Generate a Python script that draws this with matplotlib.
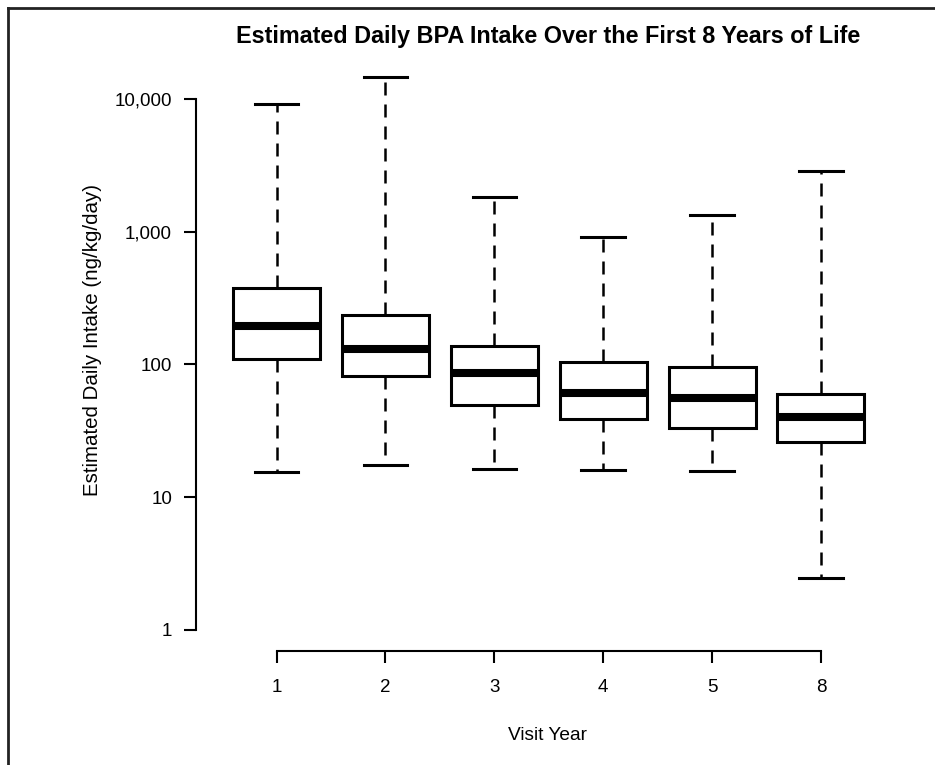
"""
Estimated daily BPA intake by visit year, R-style box plot on a log axis.
"""

import matplotlib
matplotlib.use("Agg")  # no display
import matplotlib.pyplot as plt
from matplotlib.lines import Line2D
from matplotlib.ticker import FixedLocator, NullLocator

plt.rcParams["font.family"] = ["Liberation Sans", "DejaVu Sans"]

# values (ng/kg/day)
visit_years = ["1", "2", "3", "4", "5", "8"]
whisker_high = [9200, 14600, 1830, 915, 1340, 2880]
upper_quartile = [373, 235, 137, 104, 96, 60]
median = [196, 130, 86, 61, 56, 40]
lower_quartile = [110, 81, 49, 39, 33, 26]
whisker_low = [15.4, 17.3, 16.3, 16.0, 15.8, 2.46]

y_ticks = [1, 10, 100, 1000, 10000]
y_tick_labels = ["1", "10", "100", "1,000", "10,000"]

stats = [
    dict(label=yr, whislo=lo, q1=q1, med=m, q3=q3, whishi=hi, fliers=[])
    for yr, lo, q1, m, q3, hi in zip(
        visit_years, whisker_low, lower_quartile, median, upper_quartile, whisker_high
    )
]

W, H = 935, 765
fig = plt.figure(figsize=(W / 100, H / 100), dpi=100)
fig.patch.set_facecolor("white")

# plot region in pixels: left 196, right 901.5, top 77.7, bottom 651
ax = fig.add_axes([196 / W, (H - 651) / H, 705.5 / W, (651 - 77.7) / H])

positions = list(range(1, len(visit_years) + 1))
lw_whisk = 1.8
parts = ax.bxp(
    stats,
    positions=positions,
    widths=0.8,
    patch_artist=True,
    showfliers=False,
    boxprops=dict(facecolor="white", edgecolor="black", linewidth=2.2),
    medianprops=dict(color="black", linewidth=5.8, solid_capstyle="butt"),
    whiskerprops=dict(color="black", linewidth=lw_whisk, linestyle=(0, (5.2, 3.6))),
    capprops=dict(color="black", linewidth=2.2),
    capwidths=0.4,
)
# year 2 upper whisker sits right on the top edge of the plot region
for artist in parts["caps"] + parts["whiskers"]:
    artist.set_clip_on(False)

ax.set_yscale("log")
ax.set_ylim(10 ** -0.16, 10 ** 4.16)
ax.set_xlim(0.26, len(visit_years) + 0.74)

ax.yaxis.set_major_locator(FixedLocator(y_ticks))
ax.yaxis.set_minor_locator(NullLocator())
ax.set_yticklabels(y_tick_labels)
ax.set_xticks(positions)
ax.set_xticklabels(visit_years)

for side in ("top", "right"):
    ax.spines[side].set_visible(False)
ax.spines["left"].set_bounds(1, 10000)
ax.spines["bottom"].set_bounds(1, len(visit_years))
for side in ("left", "bottom"):
    ax.spines[side].set_linewidth(1.5)

ax.tick_params(axis="y", direction="out", length=8.6, width=1.5, pad=8.6, labelsize=13.5)
ax.tick_params(axis="x", direction="out", length=8.6, width=1.5, pad=11.5, labelsize=13.5)

fig.text(548 / W, 1 - 36 / H, "Estimated Daily BPA Intake Over the First 8 Years of Life",
         ha="center", va="center", fontsize=16.8, fontweight="bold")
fig.text(548 / W, 1 - 735 / H, "Visit Year", ha="center", va="center", fontsize=13.8)
fig.text(93 / W, 1 - 340 / H, "Estimated Daily Intake (ng/kg/day)",
         ha="center", va="center", rotation=90, fontsize=14.8)

# image frame (cropped on the right and bottom in the reference)
fig.add_artist(Line2D([8 / W, 1], [1 - 8 / H, 1 - 8 / H], color="#222222", linewidth=2))
fig.add_artist(Line2D([8 / W, 8 / W], [0, 1 - 8 / H], color="#222222", linewidth=2))

fig.savefig("out.png", dpi=100)
plt.close(fig)
